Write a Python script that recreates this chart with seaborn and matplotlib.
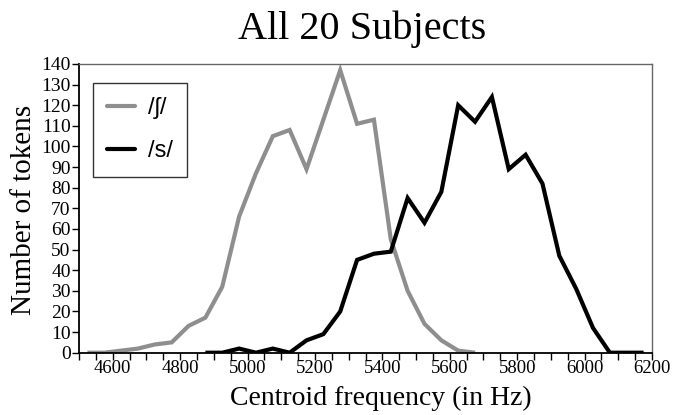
import numpy as np
import pandas as pd
import matplotlib
matplotlib.use("Agg")
import matplotlib.pyplot as plt
import seaborn as sns
from matplotlib.ticker import MultipleLocator, FixedLocator
from matplotlib.lines import Line2D

# ---- data ----
sh_freq = [4525, 4575, 4625, 4675, 4725, 4775, 4825, 4875, 4925, 4975, 5025, 5075,
           5125, 5175, 5225, 5275, 5325, 5375, 5425, 5475, 5525, 5575, 5625, 5675]
sh_count = [0, 0, 1, 2, 4, 5, 13, 17, 32, 66, 87, 105,
            108, 89, 113, 137, 111, 113, 55, 30, 14, 6, 1, 0]

s_freq = [4875, 4925, 4975, 5025, 5075, 5125, 5175, 5225, 5275, 5325, 5375, 5425,
          5475, 5525, 5575, 5625, 5675, 5725, 5775, 5825, 5875, 5925, 5975, 6025,
          6075, 6125, 6175]
s_count = [0, 0, 2, 0, 2, 0, 6, 9, 20, 45, 48, 49,
           75, 63, 78, 120, 112, 124, 89, 96, 82, 47, 31, 12,
           0, 0, 0]

labels = ["/\u0283/", "/s/"]
colors = ["#8e8e8e", "#000000"]
title = "All 20 Subjects"
xlabel = "Centroid frequency (in Hz)"
ylabel = "Number of tokens"
x_major = [4600, 4800, 5000, 5200, 5400, 5600, 5800, 6000, 6200]
y_major = list(range(0, 141, 10))

df = pd.concat([
    pd.DataFrame({"freq": sh_freq, "count": sh_count, "phone": labels[0]}),
    pd.DataFrame({"freq": s_freq, "count": s_count, "phone": labels[1]}),
], ignore_index=True)

sns.set_style("white")
plt.rcParams["font.family"] = ["Liberation Serif", "DejaVu Serif"]
plt.rcParams["text.color"] = "black"
plt.rcParams["axes.labelcolor"] = "black"
plt.rcParams["xtick.color"] = "black"
plt.rcParams["ytick.color"] = "black"

W, H = 683, 415
fig = plt.figure(figsize=(W/100, H/100), dpi=100)
ax = fig.add_axes([79/W, 1-352.7/H, (652-79)/W, (352.7-64)/H])

sns.lineplot(data=df, x="freq", y="count", hue="phone", palette=colors,
             hue_order=labels, linewidth=3.0, ax=ax, legend=False,
             estimator=None, sort=True)
for ln in ax.lines:
    ln.set_solid_joinstyle("miter")
    ln.set_solid_capstyle("butt")

ax.set_xlim(4500, 6200)
ax.set_ylim(0, 140)
ax.xaxis.set_major_locator(FixedLocator(x_major))
ax.xaxis.set_minor_locator(MultipleLocator(50))
ax.yaxis.set_major_locator(FixedLocator(y_major))
ax.tick_params(axis="both", which="both", direction="out", length=5, width=1,
               color="black", labelcolor="black", bottom=True, left=True)
ax.tick_params(axis="x", labelsize=13.5, pad=0.5)
ax.tick_params(axis="y", labelsize=14, pad=1)

for side in ["left", "bottom"]:
    ax.spines[side].set_color("black")
    ax.spines[side].set_linewidth(1.3)
for side in ["top", "right"]:
    ax.spines[side].set_color("#666666")
    ax.spines[side].set_linewidth(1.0)

ax.set_xlabel(xlabel, fontsize=20, color="black")
ax.xaxis.set_label_coords(381/W, 1-405/H, transform=fig.transFigure)
ax.xaxis.label.set_verticalalignment("baseline")
ax.set_ylabel(ylabel, fontsize=21, color="black")
ax.yaxis.set_label_coords(24/W, 1-210/H, transform=fig.transFigure)
ax.yaxis.label.set_verticalalignment("center")

fig.text(362/W, 1-39.5/H, title, fontsize=29, ha="center", va="baseline",
         color="black")

handles = [Line2D([], [], color=c, linewidth=3.0) for c in colors]
leg = ax.legend(handles, labels, loc="upper left", bbox_to_anchor=(13.5/573, 1-19/288.7),
                borderaxespad=0, frameon=True, fancybox=False,
                prop={"family": ["Liberation Sans", "DejaVu Sans"], "size": 17},
                handlelength=1.2, labelspacing=0.9, borderpad=0.6,
                handletextpad=0.55, labelcolor="black")
leg.get_frame().set_edgecolor("black")
leg.get_frame().set_linewidth(1.0)

fig.savefig("out.png", dpi=100)
